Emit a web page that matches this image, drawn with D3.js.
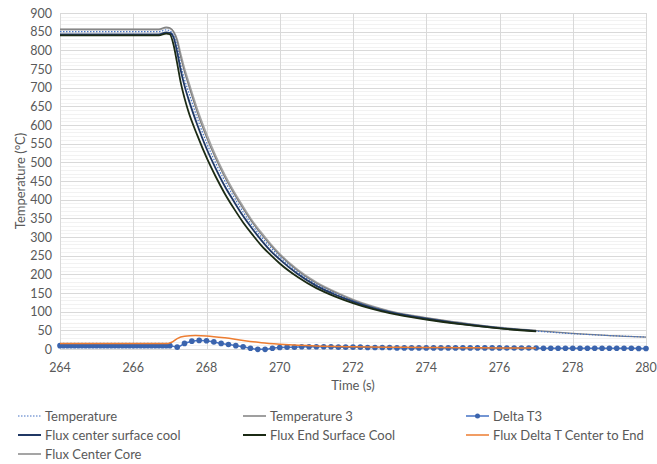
<!DOCTYPE html>
<html>
<head>
<meta charset="utf-8">
<script src="https://cdn.jsdelivr.net/npm/d3@7"></script>
<style>
  body { margin: 0; background: #fff; }
  svg text { font-family: Lato, "Open Sans", sans-serif; fill: #595959; }
</style>
</head>
<body>
<svg id="chart"></svg>
<script>
// time axis for the big cooling curves
var tCurve = [264, 266.7, 266.9, 267, 267.1, 267.2, 267.3, 267.4, 267.5, 267.75, 268, 268.25, 268.5, 268.75,
              269, 269.25, 269.5, 269.75, 270, 270.5, 271, 271.5, 272, 272.5, 273, 274, 275, 276, 277, 278, 279, 280];

var temperature  = [850, 850, 855, 852, 840, 810, 760, 722, 692, 618, 553, 498, 450, 407,
                    367, 331, 300, 272, 247, 205, 173, 149, 129, 113, 100, 82, 68, 57, 48, 41, 36, 32];
var temperature3 = [857, 857, 862, 860, 850, 825, 780, 742, 710, 633, 567, 510, 460, 416,
                    376, 339, 307, 278, 252, 209, 176, 152, 131, 114, 101, 83, 69, 57, 49, 42, 36, 32];
var fluxCenterSurface = [843, 843, 848, 847, 835, 795, 745, 705, 672, 600, 537, 484, 436, 395,
                         356, 322, 291, 263, 240, 200, 169, 146, 127, 111, 99, 81, 67, 56, 48];
var fluxEndSurface    = [840, 840, 845, 843, 815, 765, 712, 672, 638, 572, 513, 462, 416, 376,
                         339, 307, 277, 252, 229, 192, 163, 141, 123, 108, 96, 79, 66, 55, 47];
var fluxCenterCore    = [855, 855, 860, 858, 850, 830, 790, 752, 720, 643, 577, 518, 467, 422,
                         382, 344, 312, 282, 255, 212, 179, 154, 133, 116, 102, 84, 70, 58, 50];

// orange delta
var tDelta = [264, 266.95, 267.05, 267.2, 267.4, 267.7, 268, 268.5, 269, 269.5, 270, 270.5, 271, 272, 273, 274, 275, 276, 277];
var fluxDeltaT = [15, 15, 18, 28, 34, 36, 35, 30, 23, 17, 13, 10, 8, 6, 5, 4, 3.5, 3, 3];

// Delta T3 with markers
var tT3 = [264, 264.1, 264.2, 264.3, 264.4, 264.5, 264.6, 264.7, 264.8, 264.9,
           265, 265.1, 265.2, 265.3, 265.4, 265.5, 265.6, 265.7, 265.8, 265.9,
           266, 266.1, 266.2, 266.3, 266.4, 266.5, 266.6, 266.7, 266.8, 266.9, 267,
           267.2, 267.4, 267.6, 267.8, 268, 268.2, 268.4, 268.6, 268.8, 269,
           269.2, 269.4, 269.6, 269.8, 270, 270.2, 270.4, 270.6, 270.8, 271,
           271.2, 271.4, 271.6, 271.8, 272, 272.2, 272.4, 272.6, 272.8, 273,
           273.2, 273.4, 273.6, 273.8, 274, 274.2, 274.4, 274.6, 274.8, 275,
           275.2, 275.4, 275.6, 275.8, 276, 276.2, 276.4, 276.6, 276.8, 277,
           277.2, 277.4, 277.6, 277.8, 278, 278.2, 278.4, 278.6, 278.8, 279,
           279.2, 279.4, 279.6, 279.8, 280];
var deltaT3 = [9, 9, 9, 9, 9, 9, 9, 9, 9, 9,
               9, 9, 9, 9, 9, 9, 9, 9, 9, 9,
               9, 9, 9, 9, 9, 9, 9, 9, 9, 9, 9,
               5, 15, 21, 23, 22, 19, 15, 12, 9, 6,
               2, -1, -1, 2, 4, 5, 5, 6, 6, 6,
               6, 6, 5, 5, 5, 5, 4, 4, 4, 4,
               3, 3, 3, 3, 3, 3, 3, 3, 3, 3,
               3, 3, 3, 3, 3, 2.5, 2.5, 2.5, 2.5, 2.5,
               2, 2, 2, 2, 2, 2, 2, 2, 2, 2,
               2, 2, 2, 1.5, 1.5];

var xTicks = [264, 266, 268, 270, 272, 274, 276, 278, 280];
var yTicks = [0, 50, 100, 150, 200, 250, 300, 350, 400, 450, 500, 550, 600, 650, 700, 750, 800, 850, 900];

var width = 657, height = 464;
var svg = d3.select("#chart").attr("width", width).attr("height", height);

var x = d3.scaleLinear().domain([264, 280]).range([60, 646]);
var y = d3.scaleLinear().domain([0, 900]).range([349, 13]);

// minor gridlines every 10
svg.append("g").selectAll("line")
  .data(d3.range(0, 901, 10).filter(function (v) { return v % 50 != 0; }))
  .enter().append("line")
  .attr("x1", x(264)).attr("x2", x(280))
  .attr("y1", function (d) { return Math.round(y(d)) + 0.5; })
  .attr("y2", function (d) { return Math.round(y(d)) + 0.5; })
  .attr("stroke", "#f2f2f2").attr("stroke-width", 1);

// major gridlines
svg.append("g").selectAll("line")
  .data(yTicks).enter().append("line")
  .attr("x1", x(264)).attr("x2", x(280))
  .attr("y1", function (d) { return Math.round(y(d)) + 0.5; })
  .attr("y2", function (d) { return Math.round(y(d)) + 0.5; })
  .attr("stroke", "#d9d9d9").attr("stroke-width", 1);

svg.append("g").selectAll("line")
  .data(xTicks).enter().append("line")
  .attr("x1", function (d) { return Math.round(x(d)) + 0.5; })
  .attr("x2", function (d) { return Math.round(x(d)) + 0.5; })
  .attr("y1", y(0)).attr("y2", y(900))
  .attr("stroke", "#d9d9d9").attr("stroke-width", 1);

// tick labels
svg.append("g").selectAll("text")
  .data(yTicks).enter().append("text")
  .attr("x", 52).attr("y", function (d) { return y(d); })
  .attr("text-anchor", "end").attr("dominant-baseline", "central")
  .style("font-size", "12.5px")
  .text(function (d) { return d; });

svg.append("g").selectAll("text")
  .data(xTicks).enter().append("text")
  .attr("x", function (d) { return x(d); }).attr("y", 367)
  .attr("text-anchor", "middle").attr("dominant-baseline", "central")
  .style("font-size", "12.5px")
  .text(function (d) { return d; });

// axis titles
svg.append("text")
  .attr("x", 353).attr("y", 385)
  .attr("text-anchor", "middle").attr("dominant-baseline", "central")
  .style("font-size", "13px")
  .text("Time (s)");

svg.append("text")
  .attr("transform", "translate(20," + 181 + ") rotate(-90)")
  .attr("text-anchor", "middle").attr("dominant-baseline", "central")
  .style("font-size", "13px")
  .text("Temperature (°C)");

function pts(ts, vs) {
  return vs.map(function (v, i) { return [ts[i], v]; });
}

var line = d3.line()
  .x(function (d) { return x(d[0]); })
  .y(function (d) { return y(d[1]); })
  .curve(d3.curveMonotoneX);

var series = [
  { name: "Flux Center Core", t: tCurve, v: fluxCenterCore, color: "#a5a5a5", w: 1.5 },
  { name: "Temperature 3", t: tCurve, v: temperature3, color: "#7f7f7f", w: 1.3 },
  { name: "Temperature", t: tCurve, v: temperature, color: "#4472c4", w: 1.2, dash: "1.5,1.5" },
  { name: "Flux center surface cool", t: tCurve, v: fluxCenterSurface, color: "#203864", w: 1.8 },
  { name: "Flux End Surface Cool", t: tCurve, v: fluxEndSurface, color: "#1b2a14", w: 1.8 }
];

series.forEach(function (s) {
  svg.append("path")
    .datum(pts(s.t, s.v))
    .attr("d", line)
    .attr("fill", "none")
    .attr("stroke", s.color)
    .attr("stroke-width", s.w)
    .attr("stroke-dasharray", s.dash || null);
});

// Delta T3 line + markers
var t3 = pts(tT3, deltaT3);
svg.append("path")
  .datum(t3)
  .attr("d", line)
  .attr("fill", "none")
  .attr("stroke", "#4472c4")
  .attr("stroke-width", 1.5);

svg.append("g").selectAll("circle")
  .data(t3).enter().append("circle")
  .attr("cx", function (d) { return x(d[0]); })
  .attr("cy", function (d) { return y(d[1]); })
  .attr("r", 2.8)
  .attr("fill", "#3b64ad");

// orange on top
svg.append("path")
  .datum(pts(tDelta, fluxDeltaT))
  .attr("d", line)
  .attr("fill", "none")
  .attr("stroke", "#ed7d31")
  .attr("stroke-width", 1.5);

// legend
var legend = [
  { name: "Temperature", color: "#4472c4", w: 1.2, dash: "1.5,1.5", col: 0, row: 0 },
  { name: "Temperature 3", color: "#7f7f7f", w: 1.5, col: 1, row: 0 },
  { name: "Delta T3", color: "#4472c4", w: 1.5, marker: true, col: 2, row: 0 },
  { name: "Flux center surface cool", color: "#203864", w: 2, col: 0, row: 1 },
  { name: "Flux End Surface Cool", color: "#1b2a14", w: 2, col: 1, row: 1 },
  { name: "Flux Delta T Center to End", color: "#ed7d31", w: 1.5, col: 2, row: 1 },
  { name: "Flux Center Core", color: "#a5a5a5", w: 2, col: 0, row: 2 }
];
var colX = [18, 243, 466];
var rowY = [416, 435, 454];

var lg = svg.append("g").selectAll("g")
  .data(legend).enter().append("g")
  .attr("transform", function (d) { return "translate(" + colX[d.col] + "," + rowY[d.row] + ")"; });

lg.append("line")
  .attr("x1", 0).attr("x2", 23).attr("y1", 0).attr("y2", 0)
  .attr("stroke", function (d) { return d.color; })
  .attr("stroke-width", function (d) { return d.w; })
  .attr("stroke-dasharray", function (d) { return d.dash || null; });

lg.filter(function (d) { return d.marker; })
  .append("circle")
  .attr("cx", 11.5).attr("cy", 0).attr("r", 2.5)
  .attr("fill", "#3b64ad");

lg.append("text")
  .attr("x", 27).attr("y", 0)
  .attr("dominant-baseline", "central")
  .style("font-size", "13px")
  .text(function (d) { return d.name; });
</script>
</body>
</html>
